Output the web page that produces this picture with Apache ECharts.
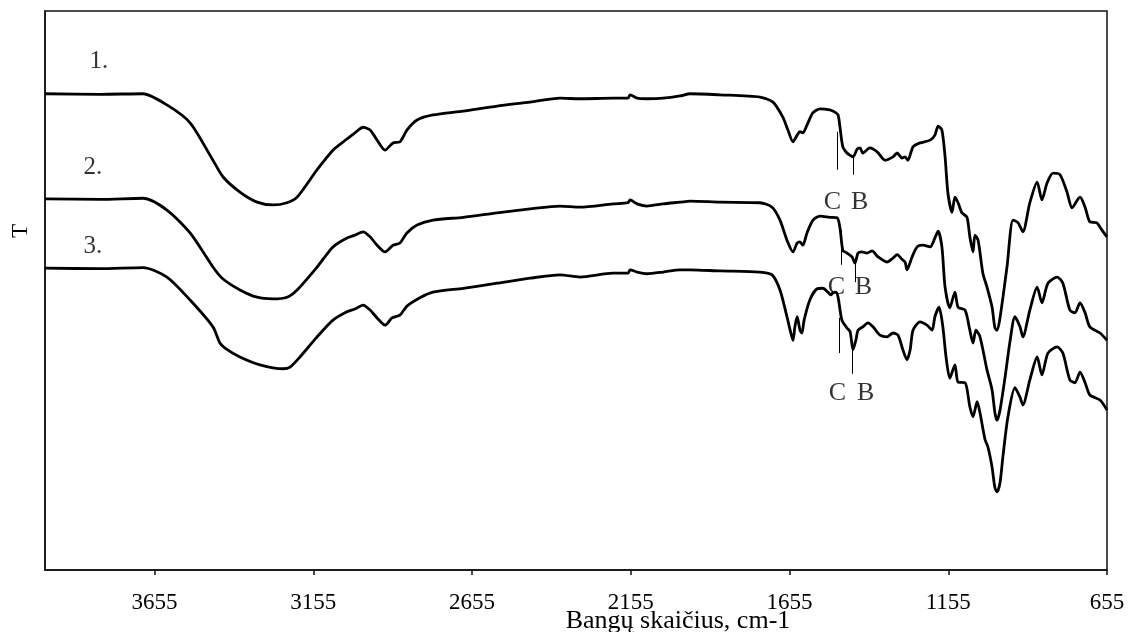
<!DOCTYPE html>
<html>
<head>
<meta charset="utf-8">
<script src="https://cdn.jsdelivr.net/npm/echarts@6/dist/echarts.min.js"></script>
<style>
  html, body { margin: 0; padding: 0; background: #fff; }
  #chart { width: 1128px; height: 632px; }
</style>
</head>
<body>
<div id="chart"></div>
<script>
// Wavenumber ticks (cm-1), axis runs from high to low
const tickValues = [3655, 3155, 2655, 2155, 1655, 1155, 655];

// IR spectra: [wavenumber cm-1, transmittance (arbitrary units, offset per sample)]
const spectrum1 = [[4000,85.2],[3827,85.1],[3691,85.2],[3616,83.2],[3543,80.0],[3471,73.3],[3439,70.3],[3386,67.6],[3332,65.8],[3282,65.3],[3238,65.7],[3206,66.7],[3143,71.6],[3093,75.1],[3049,77.1],[3024,78.2],[2998,79.2],[2976,78.7],[2954,76.9],[2929,75.1],[2904,76.4],[2882,76.6],[2860,78.7],[2828,80.5],[2778,81.4],[2683,82.1],[2576,83.0],[2472,83.7],[2378,84.4],[2315,84.3],[2211,84.4],[2164,84.4],[2157,85.0],[2135,84.4],[2104,84.3],[2053,84.4],[2000,84.8],[1968,85.2],[1874,85.0],[1748,84.6],[1707,83.7],[1676,81.0],[1660,78.7],[1644,76.6],[1631,77.8],[1622,78.4],[1613,78.2],[1600,79.6],[1581,81.8],[1559,82.5],[1528,82.3],[1512,81.9],[1502,81.4],[1496,79.2],[1487,75.7],[1474,74.6],[1464,74.2],[1455,73.9],[1442,75.3],[1433,75.5],[1424,74.6],[1402,75.5],[1379,74.8],[1354,73.3],[1329,73.9],[1316,74.6],[1301,73.7],[1291,73.9],[1282,73.3],[1266,75.7],[1244,76.4],[1212,76.9],[1197,77.8],[1187,79.4],[1175,78.7],[1165,73.9],[1156,67.4],[1143,64.0],[1134,66.7],[1124,65.7],[1112,63.9],[1096,63.1],[1087,59.6],[1077,56.9],[1071,59.9],[1061,59.0],[1046,53.1],[1033,50.6],[1017,47.0],[1008,43.3],[1001,42.9],[992,45.1],[970,54.2],[951,62.6],[935,62.1],[920,60.5],[898,65.7],[875,69.4],[860,66.2],[844,69.2],[825,71.0],[803,70.7],[781,67.6],[765,64.8],[740,66.7],[724,64.9],[709,62.3],[687,62.1],[671,60.8],[655,59.6]];

const spectrum2 = [[4000,66.4],[3827,66.3],[3691,66.5],[3616,64.4],[3543,60.3],[3471,54.2],[3442,52.2],[3386,50.1],[3332,48.8],[3282,48.5],[3238,48.8],[3206,50.1],[3143,54.2],[3093,57.8],[3049,59.4],[3024,59.9],[2998,60.5],[2976,59.6],[2954,58.1],[2929,56.9],[2904,58.1],[2882,58.5],[2860,60.3],[2828,61.7],[2778,62.6],[2683,63.1],[2576,63.9],[2472,64.6],[2378,65.1],[2315,64.9],[2211,65.5],[2164,65.7],[2157,66.2],[2135,65.5],[2104,65.1],[2053,65.5],[2000,65.8],[1968,66.0],[1874,65.8],[1748,65.7],[1710,64.9],[1685,62.6],[1663,59.0],[1644,56.9],[1631,58.5],[1622,58.7],[1613,58.1],[1600,60.3],[1581,62.6],[1559,63.3],[1528,63.1],[1505,63.0],[1496,61.2],[1487,57.2],[1474,56.7],[1458,56.0],[1449,54.9],[1439,56.7],[1427,56.9],[1411,56.7],[1395,57.1],[1376,56.0],[1348,55.1],[1329,55.8],[1316,56.4],[1301,55.6],[1291,55.1],[1285,53.7],[1269,56.0],[1253,57.8],[1235,58.1],[1212,57.8],[1197,59.4],[1187,60.6],[1175,57.8],[1165,50.6],[1150,46.9],[1134,49.7],[1124,47.0],[1102,46.5],[1087,42.9],[1077,40.6],[1068,42.9],[1055,41.7],[1033,35.8],[1017,32.2],[1008,28.1],[1001,26.8],[992,28.6],[976,34.5],[960,41.1],[945,45.3],[929,43.5],[920,41.7],[898,46.5],[875,50.6],[860,47.8],[841,51.3],[812,52.4],[794,51.3],[772,46.5],[756,46.0],[740,47.8],[724,46.0],[709,43.5],[677,42.4],[655,41.1]];

const spectrum3 = [[4000,54.0],[3827,53.9],[3691,54.1],[3616,52.4],[3543,48.3],[3471,43.5],[3449,40.6],[3433,39.7],[3386,38.1],[3323,36.7],[3250,36.0],[3228,36.3],[3197,38.1],[3143,41.7],[3093,44.7],[3049,46.2],[3024,46.7],[2998,47.4],[2976,46.5],[2954,45.1],[2929,43.8],[2907,45.1],[2882,45.6],[2860,47.2],[2819,48.7],[2778,49.7],[2683,50.4],[2576,51.3],[2472,52.2],[2378,52.8],[2315,52.4],[2211,53.1],[2164,53.1],[2157,53.7],[2135,53.3],[2104,53.0],[2053,53.3],[2000,53.7],[1968,53.7],[1874,53.5],[1748,53.3],[1710,52.8],[1685,50.1],[1663,45.3],[1653,42.9],[1644,41.1],[1638,43.5],[1631,45.3],[1622,42.9],[1616,42.4],[1609,44.7],[1591,48.3],[1568,50.3],[1550,50.4],[1534,49.7],[1524,49.2],[1518,49.6],[1509,49.7],[1502,48.8],[1490,44.7],[1474,43.3],[1464,42.6],[1455,39.4],[1446,41.1],[1439,42.9],[1424,43.5],[1408,44.2],[1392,43.5],[1370,42.0],[1348,41.7],[1329,42.4],[1313,42.0],[1298,39.4],[1285,37.6],[1275,39.4],[1266,42.9],[1244,44.4],[1222,43.8],[1206,42.9],[1197,45.3],[1184,47.0],[1172,43.5],[1162,38.1],[1150,34.3],[1134,36.7],[1124,33.6],[1102,33.5],[1087,29.2],[1077,27.4],[1064,30.1],[1055,28.1],[1039,23.3],[1030,22.0],[1017,18.4],[1008,14.7],[1001,14.0],[992,15.6],[983,20.2],[967,27.4],[945,32.6],[929,30.9],[920,29.5],[898,34.0],[875,38.1],[860,34.9],[841,38.8],[812,39.9],[794,38.8],[772,34.0],[756,33.5],[740,35.4],[724,33.5],[709,31.3],[677,30.4],[655,28.6]];

// Band marker lines: [wavenumber, upper T, lower T]
const bandLines1 = [[1505, 78.4, 71.6], [1455, 73.9, 70.7]];
const bandLines2 = [[1493, 60.8, 54.6], [1449, 55.5, 51.5]];
const bandLines3 = [[1499, 45.1, 38.8], [1458, 39.9, 35.1]];

// Band letters: [wavenumber, T, text]
const bandLabels = [[1520, 65.8, 'C'], [1434, 65.8, 'B'], [1507, 50.6, 'C'], [1422, 50.6, 'B'], [1504, 31.7, 'C'], [1415, 31.7, 'B']];

// Sample numbers next to each trace: [wavenumber, T, text]
const sampleLabels = [[3830, 90.9, '1.'], [3849, 72.1, '2.'], [3849, 57.8, '3.']];

const serif = "'Liberation Serif', 'Times New Roman', serif";

function toMarkLines(lines) {
  return lines.map(l => [{ coord: [l[0], l[1]] }, { coord: [l[0], l[2]] }]);
}

function spectrumSeries(name, data, lines) {
  return {
    name: name,
    type: 'line',
    data: data,
    showSymbol: false,
    symbol: 'none',
    smooth: 0.25,
    lineStyle: { color: '#000', width: 2.8 },
    z: 3,
    markLine: {
      silent: true,
      symbol: ['none', 'none'],
      label: { show: false },
      lineStyle: { color: '#000', width: 1, type: 'solid' },
      data: toMarkLines(lines)
    }
  };
}

function textSeries(data, size) {
  return {
    type: 'scatter',
    data: data,
    symbolSize: 1,
    itemStyle: { color: 'rgba(0,0,0,0)' },
    silent: true,
    z: 4,
    label: {
      show: true,
      position: 'inside',
      formatter: p => p.value[2],
      fontFamily: serif,
      fontSize: size,
      color: '#000',
      textBorderWidth: 0
    }
  };
}

const chart = echarts.init(document.getElementById('chart'), null, { renderer: 'canvas' });
chart.setOption({
  animation: false,
  backgroundColor: '#fff',
  grid: {
    left: 45, right: 21, top: 11, bottom: 62,
    show: true, borderColor: '#111', borderWidth: 1.5, backgroundColor: 'transparent'
  },
  xAxis: {
    type: 'value',
    min: 655,
    max: 4000,
    interval: 500,
    inverse: true,
    axisLine: { show: true, lineStyle: { color: '#111', width: 1.5 } },
    axisTick: { show: true, inside: false, length: 5, customValues: tickValues, lineStyle: { color: '#111', width: 1.5 } },
    axisLabel: {
      show: true, customValues: tickValues, margin: 21,
      formatter: v => String(v),
      fontFamily: serif, fontSize: 23, color: '#000'
    },
    splitLine: { show: false }
  },
  yAxis: {
    type: 'value',
    min: 0,
    max: 100,
    axisLine: { show: true, lineStyle: { color: '#111', width: 1.5 } },
    axisTick: { show: false },
    axisLabel: { show: false },
    splitLine: { show: false }
  },
  graphic: [
    {
      type: 'text', x: 21, y: 231, rotation: Math.PI / 2,
      style: { text: 'T', font: '23px ' + serif, fill: '#000', align: 'center', verticalAlign: 'middle' }
    },
    {
      type: 'text', x: 678, y: 621,
      style: { text: 'Bangų skaičius, cm-1', font: '26px ' + serif, fill: '#000', align: 'center', verticalAlign: 'middle' }
    }
  ],
  series: [
    spectrumSeries('1.', spectrum1, bandLines1),
    spectrumSeries('2.', spectrum2, bandLines2),
    spectrumSeries('3.', spectrum3, bandLines3),
    textSeries(bandLabels, 26),
    textSeries(sampleLabels, 25)
  ]
});
</script>
</body>
</html>
